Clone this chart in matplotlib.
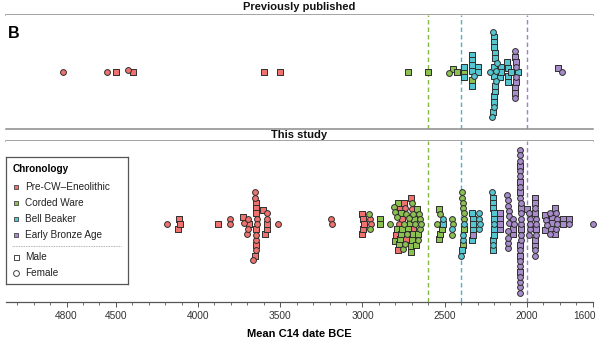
import numpy as np
import matplotlib
matplotlib.use("Agg")
import matplotlib.pyplot as plt
import matplotlib.transforms as mtransforms
from matplotlib.ticker import FixedLocator, MultipleLocator

plt.rcParams['font.family'] = ['Liberation Sans', 'DejaVu Sans']

# ---------------------------------------------------------------------------
# Mean C14 dates (years BCE) per chronology group and sex
# ---------------------------------------------------------------------------
categories = ["Pre-CW\u2013Eneolithic", "Corded Ware", "Bell Beaker", "Early Bronze Age"]
panels = ["Previously published", "This study"]

# Previously published
prev_precw_male = [4500, 4395, 3600, 3500]
prev_precw_female = [4820, 4555, 4425]
prev_cw_male = [2725, 2600, 2452, 2425, 2383, 2334]
prev_cw_female = [2475]
prev_bb_male = [2385, 2383, 2336, 2335, 2334, 2333, 2332, 2298, 2296,
                2204, 2203, 2202, 2201, 2200, 2200, 2199, 2198, 2197, 2196, 2195, 2194,
                2162, 2160, 2158, 2118, 2116, 2114, 2112, 2095, 2052]
prev_bb_female = [2320, 2222, 2215, 2208, 2200, 2190, 2186, 2180]
prev_eba_male = [2072, 2071, 2070, 2069, 2068, 1810]
prev_eba_female = [2074, 2073, 2067, 2066, 1787]

# This study
study_precw_male = [4122, 4118, 4112, 3880, 3725, 3688,
                    3652, 3650, 3649, 3648, 3647, 3645,
                    3605, 3592, 3582, 3578,
                    3004, 3001, 2998, 2995, 2991,
                    2795, 2785, 2772, 2760, 2748, 2738, 2705, 2690]
study_precw_female = [4190, 3806, 3804, 3720, 3702, 3698, 3694, 3668,
                      3653, 3651, 3650, 3648, 3646, 3644, 3642,
                      3582, 3578, 3515, 3192, 3188, 2952, 2948,
                      2780, 2740, 2700]
study_cw_male = [2896, 2894, 2802, 2792, 2782, 2776, 2770, 2768, 2764, 2760,
                 2722, 2712, 2706, 2702, 2698, 2694, 2688, 2672, 2666, 2660,
                 2536, 2534, 2530, 2516, 2391, 2384]
study_cw_female = [2960, 2955, 2834, 2806, 2800, 2790, 2752, 2746, 2740, 2736,
                   2730, 2720, 2701, 2690, 2680, 2662, 2656, 2651, 2648, 2644,
                   2546, 2526, 2456, 2454, 2450, 2396, 2393, 2390, 2387, 2385, 2382]
study_bb_male = [2510, 2393, 2334, 2332, 2330, 2328, 2326,
                 2208, 2207, 2206, 2205, 2204, 2203, 2202, 2201, 2200]
study_bb_female = [2512, 2455, 2398, 2389, 2386, 2381,
                   2294, 2292, 2290, 2288, 2210, 2206, 2199]
study_eba_male = [2330, 2166, 2165, 2164, 2163, 2086, 2084,
                  2043, 2042, 2041, 2040, 2040, 2039, 2038, 2037, 2000,
                  1952, 1951, 1950, 1949, 1948, 1947, 1892, 1888,
                  1852, 1850, 1848, 1832, 1828, 1782, 1778, 1746]
study_eba_female = [2118, 2117, 2116, 2115, 2114, 2113, 2112, 2111, 2110, 2109,
                    2082, 2078,
                    2045, 2045, 2044, 2044, 2043, 2043, 2042, 2042, 2041, 2041,
                    2040, 2040, 2039, 2039, 2038, 2038, 2037, 2037, 2036, 2036,
                    1988, 1986, 1984, 1982, 1980,
                    1953, 1951, 1949, 1947, 1945, 1943,
                    1882, 1878, 1862, 1858, 1822, 1820, 1818, 1816, 1744, 1600]

panel_data = {
    "Previously published": {
        categories[0]: (prev_precw_male, prev_precw_female),
        categories[1]: (prev_cw_male, prev_cw_female),
        categories[2]: (prev_bb_male, prev_bb_female),
        categories[3]: (prev_eba_male, prev_eba_female),
    },
    "This study": {
        categories[0]: (study_precw_male, study_precw_female),
        categories[1]: (study_cw_male, study_cw_female),
        categories[2]: (study_bb_male, study_bb_female),
        categories[3]: (study_eba_male, study_eba_female),
    },
}

# Boundaries between periods (dashed guides)
period_bounds = [2600, 2400, 2000]
bound_colors = ["#82b842", "#45b7c4", "#9c83c3"]

tick_values = [4800, 4500, 4000, 3500, 3000, 2500, 2000, 1600]

colors = {
    categories[0]: "#ef726e",
    categories[1]: "#8cc051",
    categories[2]: "#55c6cf",
    categories[3]: "#a88bcb",
}
edge = "#2e2e2e"

# ---------------------------------------------------------------------------
# Layout (figure of 600 x 341 px)
# ---------------------------------------------------------------------------
W, H, DPI = 600, 341, 100
fig = plt.figure(figsize=(W / DPI, H / DPI), dpi=DPI)
fig.patch.set_facecolor("white")

x_left_px, x_right_px = 6, 593
XMIN, XMAX = 5168, 1598
px_per_year = (x_right_px - x_left_px) / (XMIN - XMAX)


def fig_axes(top_px, bottom_px):
    return fig.add_axes([x_left_px / W, (H - bottom_px) / H,
                         (x_right_px - x_left_px) / W, (bottom_px - top_px) / H])


strip_top = fig_axes(-1, 15)
panel_top = fig_axes(15, 129)
strip_bot = fig_axes(129, 141)
panel_bot = fig_axes(141, 302)

centers_px = {"Previously published": (15, 129, 72), "This study": (141, 302, 224)}
axes_for = {"Previously published": panel_top, "This study": panel_bot}

MARKER_PX = 5.4          # marker size in pixels
MS_PT = MARKER_PX * 72 / DPI


def swarm_offsets(x_px, d):
    """Place points one by one at the smallest |y| that avoids overlaps."""
    n = len(x_px)
    ys = np.zeros(n)
    order = np.argsort(x_px, kind="stable")
    placed = []
    for i in order:
        xi = x_px[i]
        intervals = []
        for j in placed:
            dx = abs(xi - x_px[j])
            if dx < d:
                h = np.sqrt(d * d - dx * dx)
                intervals.append((ys[j] - h, ys[j] + h))
        cands = [0.0] + [a for a, _ in intervals] + [b for _, b in intervals]
        cands.sort(key=lambda c: (round(abs(c), 6), -c))
        for c in cands:
            if all(not (a + 1e-7 < c < b - 1e-7) for a, b in intervals):
                ys[i] = c
                break
        placed.append(i)
    return ys


for pname in panels:
    ax = axes_for[pname]
    top_px, bot_px, ctr_px = centers_px[pname]
    ax.set_xlim(XMIN, XMAX)
    ax.set_ylim(-(bot_px - ctr_px), ctr_px - top_px)
    for s in ax.spines.values():
        s.set_visible(False)
    ax.set_yticks([])

    vals, cats, sexes = [], [], []
    for cat in categories:
        male, female = panel_data[pname][cat]
        for v in male:
            vals.append(v); cats.append(cat); sexes.append("M")
        for v in female:
            vals.append(v); cats.append(cat); sexes.append("F")
    vals = np.array(vals, dtype=float)
    ys = swarm_offsets(vals * px_per_year, MARKER_PX * 0.98)
    cats = np.array(cats); sexes = np.array(sexes)

    for xb, cb in zip(period_bounds, bound_colors):
        ax.axvline(xb, color=cb, lw=1.0, ls=(0, (3.2, 2.2)), zorder=1)

    for cat in categories:
        for sx, mk, sc in (("M", "s", 0.93), ("F", "o", 1.08)):
            m = (cats == cat) & (sexes == sx)
            if m.any():
                ax.scatter(vals[m], ys[m], s=(MS_PT * sc) ** 2, marker=mk,
                           facecolor=colors[cat], edgecolor=edge, linewidth=0.7,
                           zorder=3, clip_on=False)

# x axis only on the lower panel
panel_top.set_xticks([])
panel_bot.spines["bottom"].set_visible(True)
panel_bot.spines["bottom"].set_color("#555555")
panel_bot.spines["bottom"].set_linewidth(0.9)
panel_bot.xaxis.set_major_locator(FixedLocator(tick_values))
panel_bot.xaxis.set_minor_locator(MultipleLocator(100))
panel_bot.set_xticklabels([str(t) for t in tick_values])
panel_bot.tick_params(axis="x", which="major", length=3.5, width=0.7, color="#555555",
                      labelsize=7.3, labelcolor="#333333", pad=3)
panel_bot.tick_params(axis="x", which="minor", length=2.2, width=0.6, color="#555555")
panel_bot.set_xlabel("Mean C14 date BCE", fontsize=8, fontweight="bold", labelpad=6)

# keep the last tick label inside the figure
last_label = panel_bot.get_xticklabels()[-1]
last_label.set_horizontalalignment("right")
last_label.set_transform(last_label.get_transform() +
                         mtransforms.ScaledTranslation(3 / DPI, 0, fig.dpi_scale_trans))

# facet strips
for sax, label in ((strip_top, panels[0]), (strip_bot, panels[1])):
    sax.set_xticks([]); sax.set_yticks([])
    sax.set_xlim(0, 1); sax.set_ylim(0, 1)
    sax.patch.set_alpha(0)
    for side in ("left", "right"):
        sax.spines[side].set_visible(False)
    for side in ("top", "bottom"):
        sax.spines[side].set_color("#8a8a8a")
        sax.spines[side].set_linewidth(1.1)
    sax.text(0.5, 0.5, label, ha="center", va="center", fontsize=8,
             fontweight="bold", color="#111111")
strip_top.spines["top"].set_color("#d8d8d8")

fig.text(8 / W, 1 - 33 / H, "B", fontsize=11.5, fontweight="bold", va="center", ha="left")

# legend box
lg = fig.add_axes([6 / W, (H - 284) / H, 122 / W, 127 / H])
lg.set_xlim(0, 122); lg.set_ylim(127, 0)
lg.set_xticks([]); lg.set_yticks([])
lg.set_facecolor("white")
for s in lg.spines.values():
    s.set_color("#555555"); s.set_linewidth(0.9)
lg.set_zorder(10)
lg.text(6.3, 11.5, "Chronology", fontsize=7.2, fontweight="bold", va="center", ha="left")
for cat, yy in zip(categories, [30.3, 46.2, 62.0, 77.7]):
    lg.scatter([10.3], [yy], marker="s", s=(4.6 * 72 / DPI) ** 2, facecolor=colors[cat],
               edgecolor="#444444", linewidth=0.6)
    lg.text(19, yy, cat, fontsize=7.2, va="center", ha="left", color="#222222")
lg.plot([6, 115], [88.7, 88.7], color="#999999", lw=0.6, ls=(0, (1, 1)))
lg.scatter([10.3], [100.3], marker="s", s=(5.0 * 72 / DPI) ** 2, facecolor="white",
           edgecolor="#444444", linewidth=0.7)
lg.text(19, 100.3, "Male", fontsize=7.2, va="center", ha="left", color="#222222")
lg.scatter([10.3], [115.7], marker="o", s=(5.8 * 72 / DPI) ** 2, facecolor="white",
           edgecolor="#444444", linewidth=0.7)
lg.text(19, 115.7, "Female", fontsize=7.2, va="center", ha="left", color="#222222")

fig.savefig("out.png", dpi=DPI)
